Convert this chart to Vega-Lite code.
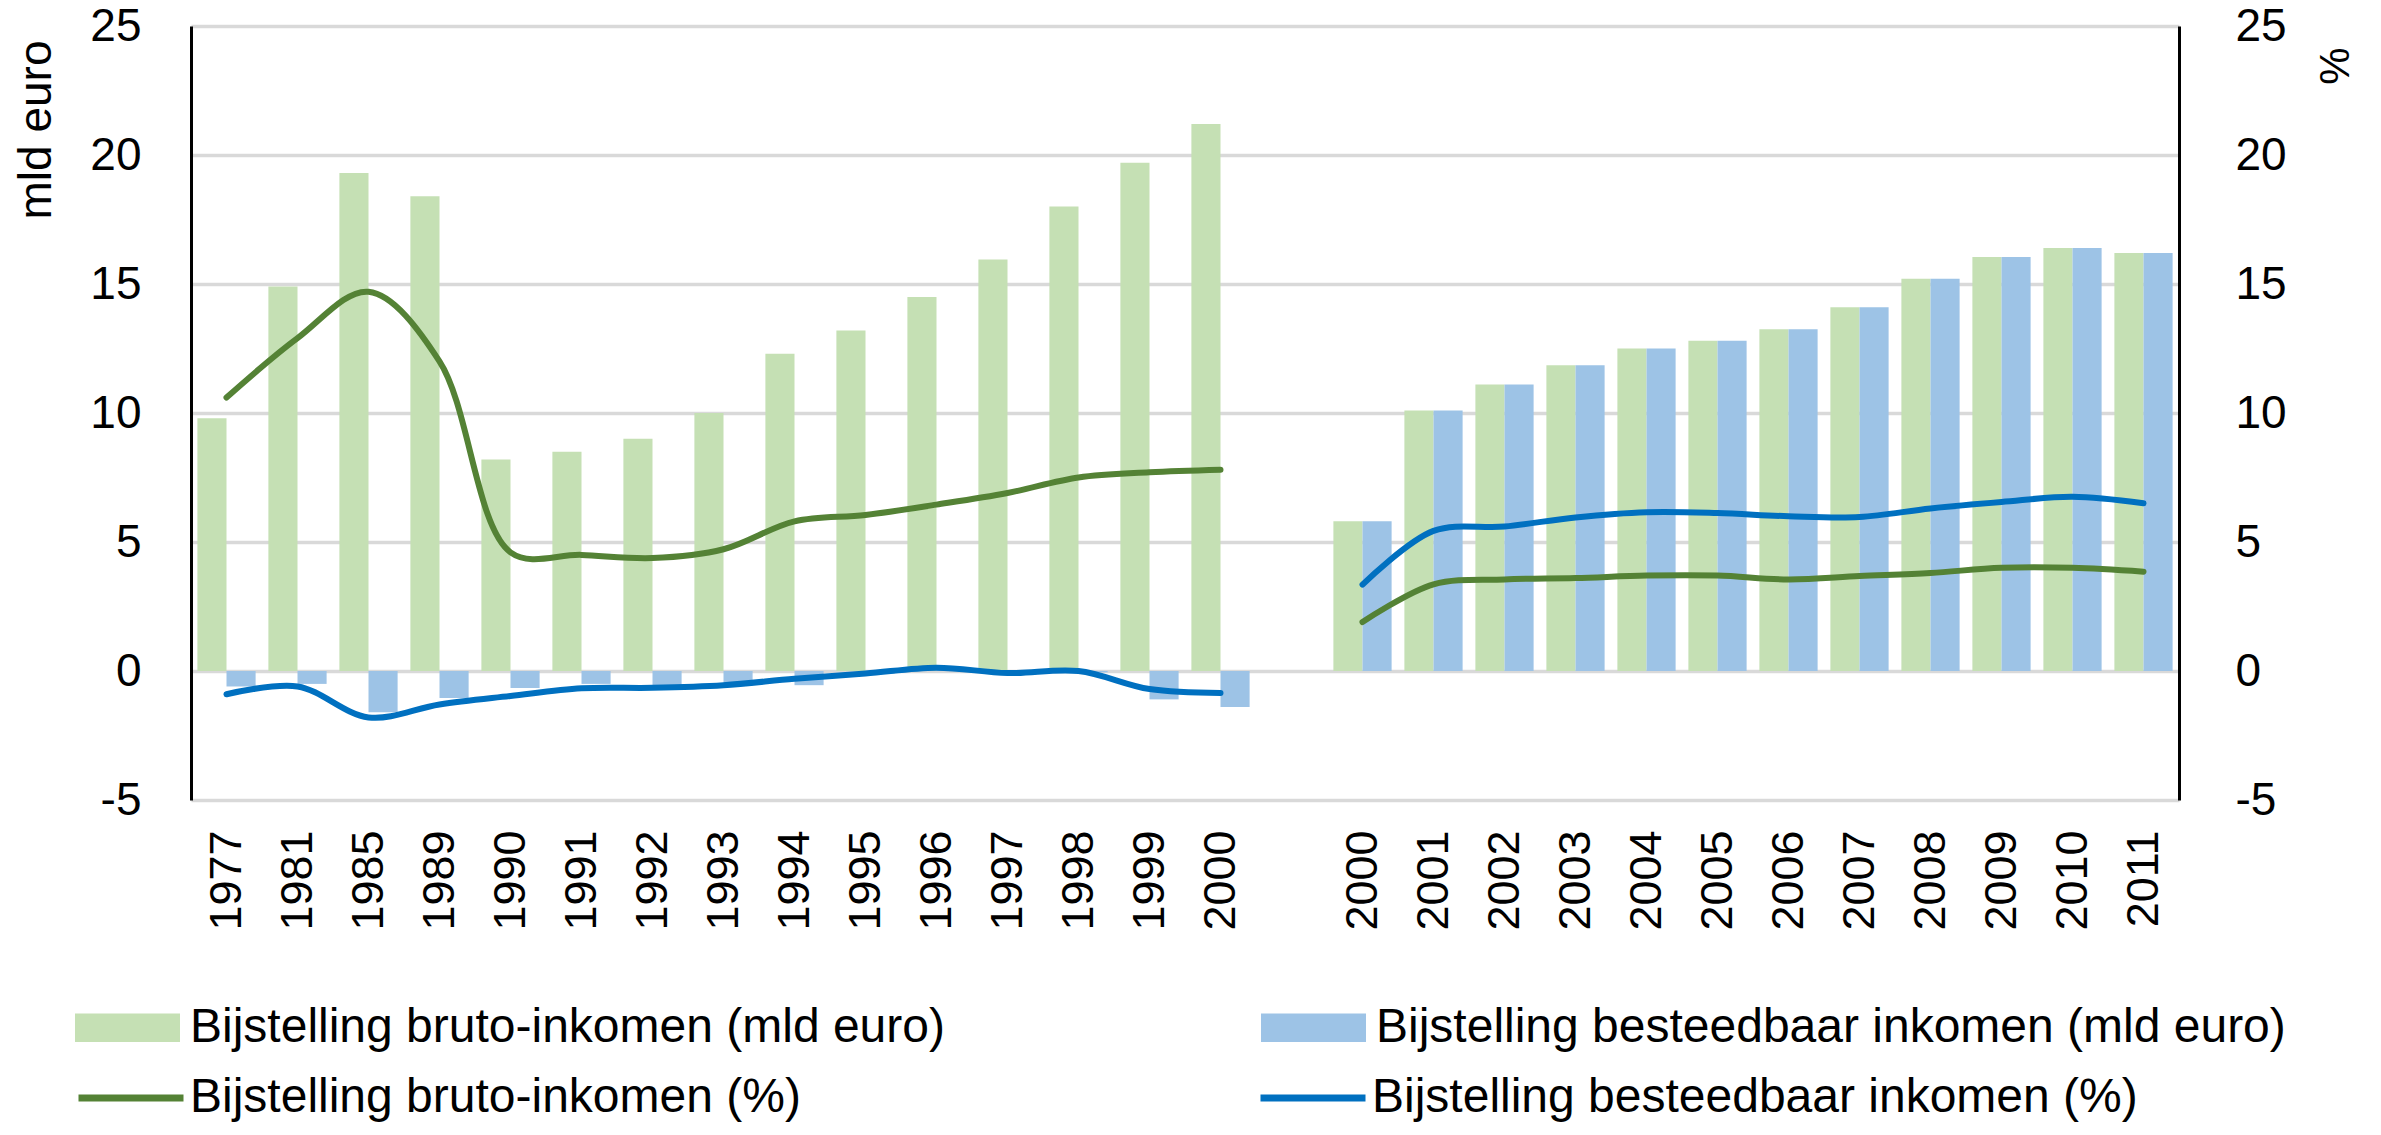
{
  "$schema": "https://vega.github.io/schema/vega-lite/v6.json",
  "width": 1988,
  "height": 774,
  "autosize": {"type": "none"},
  "padding": {"left": 191, "top": 26, "right": 202, "bottom": 335},
  "background": "white",
  "config": {
    "font": "Liberation Sans",
    "view": {"stroke": null},
    "axis": {"labelFont": "Liberation Sans", "titleFont": "Liberation Sans", "labelColor": "#000", "titleColor": "#000", "titleFontWeight": "normal"},
    "legend": {"labelFont": "Liberation Sans", "labelColor": "#000"}
  },
  "datasets": {
    "bars": [
      {"slot": "L1977", "series": "Bijstelling bruto-inkomen (mld euro)", "value": 9.8},
      {"slot": "L1981", "series": "Bijstelling bruto-inkomen (mld euro)", "value": 14.9},
      {"slot": "L1985", "series": "Bijstelling bruto-inkomen (mld euro)", "value": 19.3},
      {"slot": "L1989", "series": "Bijstelling bruto-inkomen (mld euro)", "value": 18.4},
      {"slot": "L1990", "series": "Bijstelling bruto-inkomen (mld euro)", "value": 8.2},
      {"slot": "L1991", "series": "Bijstelling bruto-inkomen (mld euro)", "value": 8.5},
      {"slot": "L1992", "series": "Bijstelling bruto-inkomen (mld euro)", "value": 9.0},
      {"slot": "L1993", "series": "Bijstelling bruto-inkomen (mld euro)", "value": 10.0},
      {"slot": "L1994", "series": "Bijstelling bruto-inkomen (mld euro)", "value": 12.3},
      {"slot": "L1995", "series": "Bijstelling bruto-inkomen (mld euro)", "value": 13.2},
      {"slot": "L1996", "series": "Bijstelling bruto-inkomen (mld euro)", "value": 14.5},
      {"slot": "L1997", "series": "Bijstelling bruto-inkomen (mld euro)", "value": 15.95},
      {"slot": "L1998", "series": "Bijstelling bruto-inkomen (mld euro)", "value": 18.0},
      {"slot": "L1999", "series": "Bijstelling bruto-inkomen (mld euro)", "value": 19.7},
      {"slot": "L2000", "series": "Bijstelling bruto-inkomen (mld euro)", "value": 21.2},
      {"slot": "R2000", "series": "Bijstelling bruto-inkomen (mld euro)", "value": 5.8},
      {"slot": "R2001", "series": "Bijstelling bruto-inkomen (mld euro)", "value": 10.1},
      {"slot": "R2002", "series": "Bijstelling bruto-inkomen (mld euro)", "value": 11.1},
      {"slot": "R2003", "series": "Bijstelling bruto-inkomen (mld euro)", "value": 11.85},
      {"slot": "R2004", "series": "Bijstelling bruto-inkomen (mld euro)", "value": 12.5},
      {"slot": "R2005", "series": "Bijstelling bruto-inkomen (mld euro)", "value": 12.8},
      {"slot": "R2006", "series": "Bijstelling bruto-inkomen (mld euro)", "value": 13.25},
      {"slot": "R2007", "series": "Bijstelling bruto-inkomen (mld euro)", "value": 14.1},
      {"slot": "R2008", "series": "Bijstelling bruto-inkomen (mld euro)", "value": 15.2},
      {"slot": "R2009", "series": "Bijstelling bruto-inkomen (mld euro)", "value": 16.05},
      {"slot": "R2010", "series": "Bijstelling bruto-inkomen (mld euro)", "value": 16.4},
      {"slot": "R2011", "series": "Bijstelling bruto-inkomen (mld euro)", "value": 16.2},
      {"slot": "L1977", "series": "Bijstelling besteedbaar inkomen (mld euro)", "value": -0.6},
      {"slot": "L1981", "series": "Bijstelling besteedbaar inkomen (mld euro)", "value": -0.5},
      {"slot": "L1985", "series": "Bijstelling besteedbaar inkomen (mld euro)", "value": -1.6},
      {"slot": "L1989", "series": "Bijstelling besteedbaar inkomen (mld euro)", "value": -1.05},
      {"slot": "L1990", "series": "Bijstelling besteedbaar inkomen (mld euro)", "value": -0.66},
      {"slot": "L1991", "series": "Bijstelling besteedbaar inkomen (mld euro)", "value": -0.5},
      {"slot": "L1992", "series": "Bijstelling besteedbaar inkomen (mld euro)", "value": -0.66},
      {"slot": "L1993", "series": "Bijstelling besteedbaar inkomen (mld euro)", "value": -0.58},
      {"slot": "L1994", "series": "Bijstelling besteedbaar inkomen (mld euro)", "value": -0.55},
      {"slot": "L1995", "series": "Bijstelling besteedbaar inkomen (mld euro)", "value": -0.1},
      {"slot": "L1996", "series": "Bijstelling besteedbaar inkomen (mld euro)", "value": 0.05},
      {"slot": "L1997", "series": "Bijstelling besteedbaar inkomen (mld euro)", "value": -0.05},
      {"slot": "L1998", "series": "Bijstelling besteedbaar inkomen (mld euro)", "value": -0.05},
      {"slot": "L1999", "series": "Bijstelling besteedbaar inkomen (mld euro)", "value": -1.1},
      {"slot": "L2000", "series": "Bijstelling besteedbaar inkomen (mld euro)", "value": -1.4},
      {"slot": "R2000", "series": "Bijstelling besteedbaar inkomen (mld euro)", "value": 5.8},
      {"slot": "R2001", "series": "Bijstelling besteedbaar inkomen (mld euro)", "value": 10.1},
      {"slot": "R2002", "series": "Bijstelling besteedbaar inkomen (mld euro)", "value": 11.1},
      {"slot": "R2003", "series": "Bijstelling besteedbaar inkomen (mld euro)", "value": 11.85},
      {"slot": "R2004", "series": "Bijstelling besteedbaar inkomen (mld euro)", "value": 12.5},
      {"slot": "R2005", "series": "Bijstelling besteedbaar inkomen (mld euro)", "value": 12.8},
      {"slot": "R2006", "series": "Bijstelling besteedbaar inkomen (mld euro)", "value": 13.25},
      {"slot": "R2007", "series": "Bijstelling besteedbaar inkomen (mld euro)", "value": 14.1},
      {"slot": "R2008", "series": "Bijstelling besteedbaar inkomen (mld euro)", "value": 15.2},
      {"slot": "R2009", "series": "Bijstelling besteedbaar inkomen (mld euro)", "value": 16.05},
      {"slot": "R2010", "series": "Bijstelling besteedbaar inkomen (mld euro)", "value": 16.4},
      {"slot": "R2011", "series": "Bijstelling besteedbaar inkomen (mld euro)", "value": 16.2}
    ],
    "lines": [
      {"slot": "L1977", "part": "L", "series": "Bijstelling bruto-inkomen (%)", "value": 10.6},
      {"slot": "L1981", "part": "L", "series": "Bijstelling bruto-inkomen (%)", "value": 12.9},
      {"slot": "L1985", "part": "L", "series": "Bijstelling bruto-inkomen (%)", "value": 14.7},
      {"slot": "L1989", "part": "L", "series": "Bijstelling bruto-inkomen (%)", "value": 12.0},
      {"slot": "L1990", "part": "L", "series": "Bijstelling bruto-inkomen (%)", "value": 4.6},
      {"slot": "L1991", "part": "L", "series": "Bijstelling bruto-inkomen (%)", "value": 4.5},
      {"slot": "L1992", "part": "L", "series": "Bijstelling bruto-inkomen (%)", "value": 4.38},
      {"slot": "L1993", "part": "L", "series": "Bijstelling bruto-inkomen (%)", "value": 4.72},
      {"slot": "L1994", "part": "L", "series": "Bijstelling bruto-inkomen (%)", "value": 5.8},
      {"slot": "L1995", "part": "L", "series": "Bijstelling bruto-inkomen (%)", "value": 6.05},
      {"slot": "L1996", "part": "L", "series": "Bijstelling bruto-inkomen (%)", "value": 6.45},
      {"slot": "L1997", "part": "L", "series": "Bijstelling bruto-inkomen (%)", "value": 6.9},
      {"slot": "L1998", "part": "L", "series": "Bijstelling bruto-inkomen (%)", "value": 7.5},
      {"slot": "L1999", "part": "L", "series": "Bijstelling bruto-inkomen (%)", "value": 7.7},
      {"slot": "L2000", "part": "L", "series": "Bijstelling bruto-inkomen (%)", "value": 7.8},
      {"slot": "R2000", "part": "R", "series": "Bijstelling bruto-inkomen (%)", "value": 1.9},
      {"slot": "R2001", "part": "R", "series": "Bijstelling bruto-inkomen (%)", "value": 3.36},
      {"slot": "R2002", "part": "R", "series": "Bijstelling bruto-inkomen (%)", "value": 3.55},
      {"slot": "R2003", "part": "R", "series": "Bijstelling bruto-inkomen (%)", "value": 3.6},
      {"slot": "R2004", "part": "R", "series": "Bijstelling bruto-inkomen (%)", "value": 3.7},
      {"slot": "R2005", "part": "R", "series": "Bijstelling bruto-inkomen (%)", "value": 3.7},
      {"slot": "R2006", "part": "R", "series": "Bijstelling bruto-inkomen (%)", "value": 3.55},
      {"slot": "R2007", "part": "R", "series": "Bijstelling bruto-inkomen (%)", "value": 3.68},
      {"slot": "R2008", "part": "R", "series": "Bijstelling bruto-inkomen (%)", "value": 3.8},
      {"slot": "R2009", "part": "R", "series": "Bijstelling bruto-inkomen (%)", "value": 4.0},
      {"slot": "R2010", "part": "R", "series": "Bijstelling bruto-inkomen (%)", "value": 4.0},
      {"slot": "R2011", "part": "R", "series": "Bijstelling bruto-inkomen (%)", "value": 3.85},
      {"slot": "L1977", "part": "L", "series": "Bijstelling besteedbaar inkomen (%)", "value": -0.9},
      {"slot": "L1981", "part": "L", "series": "Bijstelling besteedbaar inkomen (%)", "value": -0.6},
      {"slot": "L1985", "part": "L", "series": "Bijstelling besteedbaar inkomen (%)", "value": -1.8},
      {"slot": "L1989", "part": "L", "series": "Bijstelling besteedbaar inkomen (%)", "value": -1.3},
      {"slot": "L1990", "part": "L", "series": "Bijstelling besteedbaar inkomen (%)", "value": -0.97},
      {"slot": "L1991", "part": "L", "series": "Bijstelling besteedbaar inkomen (%)", "value": -0.67},
      {"slot": "L1992", "part": "L", "series": "Bijstelling besteedbaar inkomen (%)", "value": -0.65},
      {"slot": "L1993", "part": "L", "series": "Bijstelling besteedbaar inkomen (%)", "value": -0.55},
      {"slot": "L1994", "part": "L", "series": "Bijstelling besteedbaar inkomen (%)", "value": -0.3},
      {"slot": "L1995", "part": "L", "series": "Bijstelling besteedbaar inkomen (%)", "value": -0.1},
      {"slot": "L1996", "part": "L", "series": "Bijstelling besteedbaar inkomen (%)", "value": 0.13},
      {"slot": "L1997", "part": "L", "series": "Bijstelling besteedbaar inkomen (%)", "value": -0.08},
      {"slot": "L1998", "part": "L", "series": "Bijstelling besteedbaar inkomen (%)", "value": 0.0},
      {"slot": "L1999", "part": "L", "series": "Bijstelling besteedbaar inkomen (%)", "value": -0.7},
      {"slot": "L2000", "part": "L", "series": "Bijstelling besteedbaar inkomen (%)", "value": -0.85},
      {"slot": "R2000", "part": "R", "series": "Bijstelling besteedbaar inkomen (%)", "value": 3.35},
      {"slot": "R2001", "part": "R", "series": "Bijstelling besteedbaar inkomen (%)", "value": 5.43},
      {"slot": "R2002", "part": "R", "series": "Bijstelling besteedbaar inkomen (%)", "value": 5.6},
      {"slot": "R2003", "part": "R", "series": "Bijstelling besteedbaar inkomen (%)", "value": 5.95},
      {"slot": "R2004", "part": "R", "series": "Bijstelling besteedbaar inkomen (%)", "value": 6.15},
      {"slot": "R2005", "part": "R", "series": "Bijstelling besteedbaar inkomen (%)", "value": 6.12},
      {"slot": "R2006", "part": "R", "series": "Bijstelling besteedbaar inkomen (%)", "value": 6.0},
      {"slot": "R2007", "part": "R", "series": "Bijstelling besteedbaar inkomen (%)", "value": 5.97},
      {"slot": "R2008", "part": "R", "series": "Bijstelling besteedbaar inkomen (%)", "value": 6.3},
      {"slot": "R2009", "part": "R", "series": "Bijstelling besteedbaar inkomen (%)", "value": 6.55},
      {"slot": "R2010", "part": "R", "series": "Bijstelling besteedbaar inkomen (%)", "value": 6.75},
      {"slot": "R2011", "part": "R", "series": "Bijstelling besteedbaar inkomen (%)", "value": 6.5}
    ]
  },
  "layer": [
    {
      "data": {"name": "bars"},
      "mark": {"type": "bar"},
      "encoding": {
        "x": {
          "field": "slot", "type": "nominal",
          "scale": {
            "domain": ["L1977", "L1981", "L1985", "L1989", "L1990", "L1991", "L1992", "L1993", "L1994", "L1995", "L1996", "L1997", "L1998", "L1999", "L2000", "gap", "R2000", "R2001", "R2002", "R2003", "R2004", "R2005", "R2006", "R2007", "R2008", "R2009", "R2010", "R2011"],
            "paddingInner": 0.18, "paddingOuter": 0.09
          },
          "axis": {
            "title": null, "labelExpr": "datum.value == 'gap' ? '' : slice(datum.value, 1)",
            "labelAngle": 270, "labelAlign": "right", "labelBaseline": "middle",
            "labelFontSize": 45, "labelPadding": 30, "ticks": false, "domain": false, "grid": false
          }
        },
        "xOffset": {
          "field": "series", "type": "nominal",
          "scale": {"domain": ["Bijstelling bruto-inkomen (mld euro)", "Bijstelling besteedbaar inkomen (mld euro)"], "paddingInner": 0, "paddingOuter": 0}
        },
        "y": {
          "field": "value", "type": "quantitative",
          "scale": {"domain": [-5, 25], "nice": false, "zero": false},
          "axis": {
            "values": [-5, 0, 5, 10, 15, 20, 25], "labelExpr": "'' + datum.value",
            "title": "mld euro", "titleFontSize": 46, "titleAngle": 270, "titleAlign": "right", "titleBaseline": "middle",
            "titleX": -155, "titleY": 14,
            "labelFontSize": 46, "labelPadding": 50, "ticks": false,
            "domainColor": "#000", "domainWidth": 3,
            "grid": true, "gridColor": "#D9D9D9", "gridWidth": 3.5
          }
        },
        "fill": {
          "field": "series", "type": "nominal",
          "scale": {
            "domain": ["Bijstelling bruto-inkomen (mld euro)", "Bijstelling besteedbaar inkomen (mld euro)"],
            "range": ["#C5E0B4", "#9DC3E6"]
          },
          "legend": {
            "orient": "none", "legendX": -116, "legendY": 949, "padding": 0,
            "direction": "horizontal", "columns": 2, "columnPadding": 316,
            "title": null, "labelFontSize": 48, "labelLimit": 2000, "labelOffset": 10,
            "symbolType": "M-1,-0.27H1V0.27H-1Z", "symbolSize": 11025, "symbolStrokeWidth": 0
          }
        }
      }
    },
    {
      "data": {"name": "lines"},
      "mark": {"type": "line", "interpolate": "catmull-rom", "strokeWidth": 6, "strokeCap": "round"},
      "encoding": {
        "x": {"field": "slot", "type": "nominal"},
        "y": {
          "field": "value", "type": "quantitative",
          "scale": {"domain": [-5, 25], "nice": false, "zero": false},
          "axis": {
            "orient": "right", "values": [-5, 0, 5, 10, 15, 20, 25], "labelExpr": "'' + datum.value",
            "title": "%", "titleFontSize": 42, "titleAngle": 270, "titleAlign": "right", "titleBaseline": "middle",
            "titleX": 156, "titleY": 21,
            "labelFontSize": 46, "labelPadding": 56, "ticks": false,
            "domainColor": "#000", "domainWidth": 3, "grid": false
          }
        },
        "stroke": {
          "field": "series", "type": "nominal",
          "scale": {
            "domain": ["Bijstelling bruto-inkomen (%)", "Bijstelling besteedbaar inkomen (%)"],
            "range": ["#548235", "#0070C0"]
          },
          "legend": {
            "orient": "none", "legendX": -116, "legendY": 1016, "padding": 0,
            "direction": "horizontal", "columns": 2, "columnPadding": 445,
            "title": null, "labelFontSize": 48, "labelLimit": 2000, "labelOffset": 3,
            "symbolType": "M-1,0H1", "symbolSize": 11025, "symbolStrokeWidth": 7, "symbolFillColor": "transparent"
          }
        },
        "detail": {"field": "part", "type": "nominal"}
      }
    }
  ],
  "resolve": {"scale": {"y": "independent"}}
}
